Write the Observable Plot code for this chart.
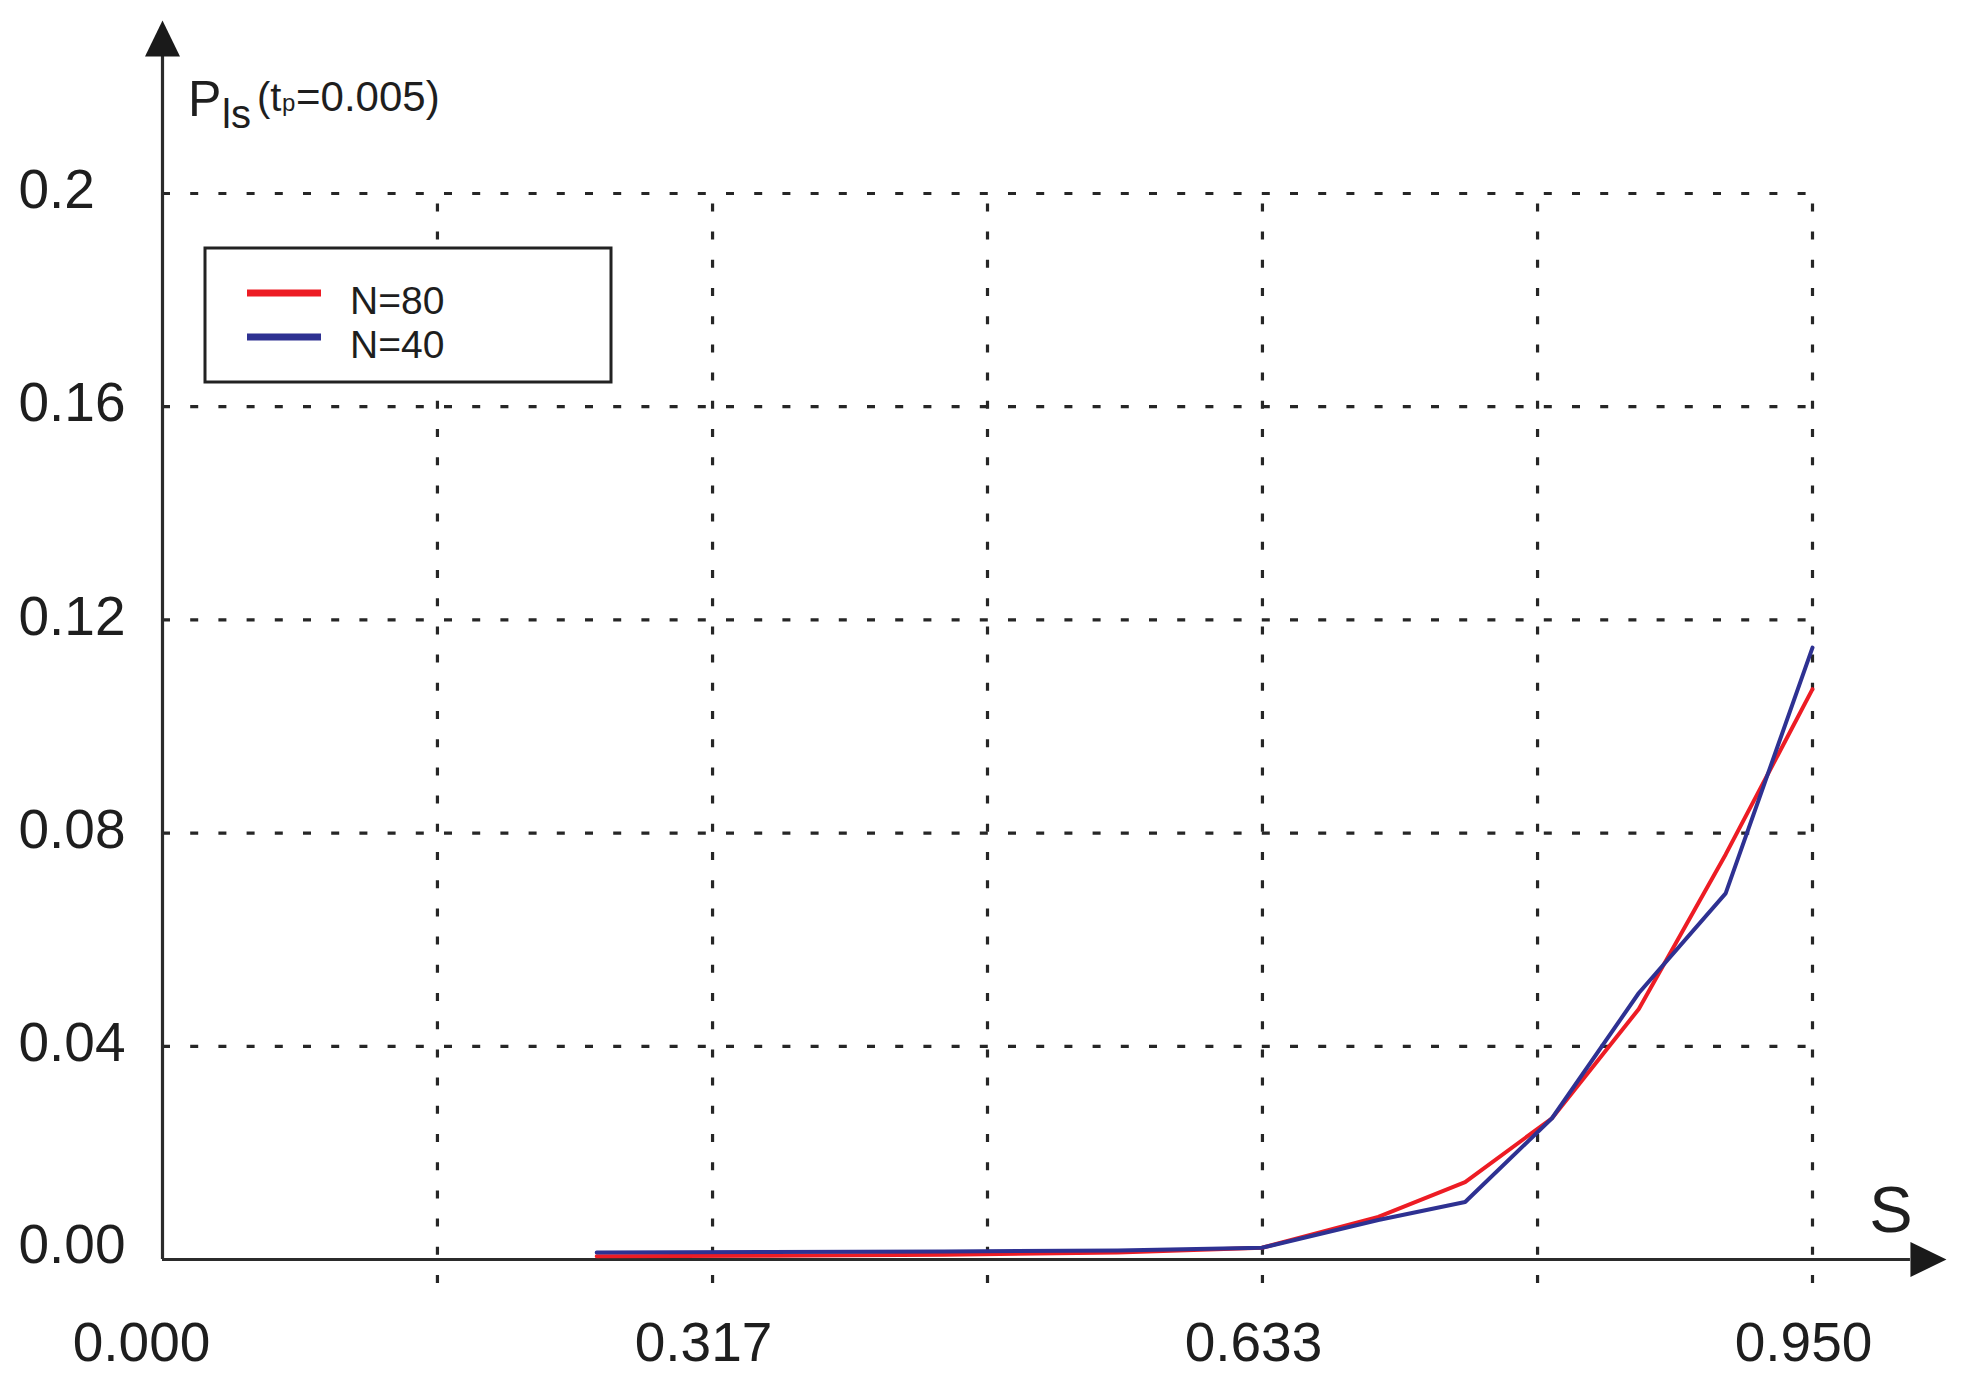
<!DOCTYPE html>
<html>
<head>
<meta charset="utf-8">
<script src="https://cdn.jsdelivr.net/npm/d3@7"></script>
<script src="https://cdn.jsdelivr.net/npm/@observablehq/plot@0.6"></script>
<style>
  html, body { margin: 0; padding: 0; background: #fff; }
  #chart { position: relative; width: 1961px; height: 1389px; overflow: hidden; }
  #chart svg { font-family: "Liberation Sans", Arial, sans-serif; }
</style>
</head>
<body>
<div id="chart"></div>
<script>
// ---- data ----
const sValues = [0.25, 0.35, 0.45, 0.55, 0.633, 0.70, 0.75, 0.80, 0.85, 0.90, 0.95];
const pN80 = [0.0006, 0.0007, 0.0009, 0.0013, 0.0022, 0.0080, 0.0145, 0.0265, 0.0470, 0.0760, 0.1070];
const pN40 = [0.0013, 0.0014, 0.0015, 0.0017, 0.0022, 0.0074, 0.0108, 0.0265, 0.0500, 0.0687, 0.1148];
const seriesNames = ["N=80", "N=40"];
const seriesColors = ["#ed1c24", "#2e3192"];

const xGrid = [0.1583, 0.3167, 0.4750, 0.6333, 0.7917, 0.95];
const xTickValues = [0, 0.3167, 0.6333, 0.95];
const xTickLabels = ["0.000", "0.317", "0.633", "0.950"];
const yTickValues = [0, 0.04, 0.08, 0.12, 0.16, 0.2];
const yTickLabels = ["0.00", "0.04", "0.08", "0.12", "0.16", "0.2"];

// ---- build table ----
const rows = [];
sValues.forEach((s, i) => {
  rows.push({s, p: pN80[i], series: seriesNames[0]});
  rows.push({s, p: pN40[i], series: seriesNames[1]});
});

const FONT = "'Liberation Sans', Arial, sans-serif";
const axisColor = "#2b2b2b";
const gridStyle = {stroke: "#262626", strokeWidth: 3.2, strokeDasharray: "8,20.2"};
const arrowSymbol = {
  draw(ctx) { ctx.moveTo(0, -36); ctx.lineTo(17.5, 0); ctx.lineTo(-17.5, 0); ctx.closePath(); }
};
const yAxisTop = 0.2257;   // where the vertical axis line ends (arrow base)
const xAxisEnd = 1.0064;   // where the horizontal axis line ends (arrow base)
const gridBottom = -0.0045;

const plot = Plot.plot({
  width: 1961,
  height: 1389,
  marginLeft: 162,
  marginRight: 149,
  marginTop: 193,
  marginBottom: 130,
  x: {domain: [0, 0.95], axis: null},
  y: {domain: [0, 0.2], axis: null},
  color: {domain: seriesNames, range: seriesColors},
  style: {background: "#fff", fontFamily: FONT},
  marks: [
    Plot.ruleY(yTickValues.filter(d => d > 0), {y: d => d, ...gridStyle}),
    Plot.ruleX(xGrid, {x: d => d, y1: gridBottom, y2: 0.2, ...gridStyle}),
    Plot.ruleX([0], {x: d => d, y1: 0, y2: yAxisTop, stroke: axisColor, strokeWidth: 3.2}),
    Plot.ruleY([0], {y: d => d, x1: 0, x2: xAxisEnd, stroke: axisColor, strokeWidth: 3.2}),
    Plot.dot([0], {x: 0, y: yAxisTop, symbol: arrowSymbol, fill: "#1a1a1a", stroke: "none"}),
    Plot.dot([0], {x: xAxisEnd, y: 0, symbol: arrowSymbol, rotate: 90, fill: "#1a1a1a", stroke: "none"}),
    Plot.line(rows, {x: "s", y: "p", z: "series", stroke: "series", strokeWidth: 4, curve: "linear"}),
    // y tick labels
    Plot.text(yTickValues.filter(d => d > 0), {
      y: d => d, text: d => yTickLabels[yTickValues.indexOf(d)],
      frameAnchor: "left", textAnchor: "start", dx: -144, dy: -3, fontSize: 55, fill: "#1e1e1e"
    }),
    Plot.text([0], {
      y: d => d, text: d => yTickLabels[yTickValues.indexOf(d)],
      frameAnchor: "left", textAnchor: "start", dx: -144, dy: -14, fontSize: 55, fill: "#1e1e1e"
    }),
    // x tick labels
    Plot.text(xTickValues.filter(d => d > 0), {
      x: d => d, text: d => xTickLabels[xTickValues.indexOf(d)],
      frameAnchor: "bottom", dy: 101, dx: -9, fontSize: 55, fill: "#1e1e1e"
    }),
    Plot.text([0], {
      x: d => d, text: d => xTickLabels[xTickValues.indexOf(d)],
      frameAnchor: "bottom", dy: 101, dx: -21, fontSize: 55, fill: "#1e1e1e"
    })
  ]
});

document.getElementById("chart").appendChild(plot);

// ---- axis titles and legend (text / decoration) ----
const svg = d3.select(plot);
function addText(x, y, size, str, anchor = "start") {
  return svg.append("text").attr("x", x).attr("y", y).attr("font-size", size)
    .attr("text-anchor", anchor).attr("fill", "#1e1e1e").attr("font-family", FONT).text(str);
}
addText(188, 116, 50, "P");
addText(222, 128, 40, "ls");
addText(257, 111, 40, "(t");
addText(282, 111, 24, "p");
addText(296, 111, 42, "=0.005)");

addText(1891, 1232, 65, "S", "middle");

const lg = svg.append("g");
lg.append("rect").attr("x", 205).attr("y", 248).attr("width", 406).attr("height", 134)
  .attr("fill", "#fff").attr("stroke", "#222").attr("stroke-width", 3);
seriesNames.forEach((name, i) => {
  const yy = 293 + i * 44;
  lg.append("line").attr("x1", 247).attr("x2", 321).attr("y1", yy).attr("y2", yy)
    .attr("stroke", seriesColors[i]).attr("stroke-width", 7);
  lg.append("text").attr("x", 350).attr("y", 314 + i * 44).attr("font-size", 39)
    .attr("text-anchor", "start").attr("fill", "#1e1e1e").attr("font-family", FONT).text(name);
});
</script>
</body>
</html>
